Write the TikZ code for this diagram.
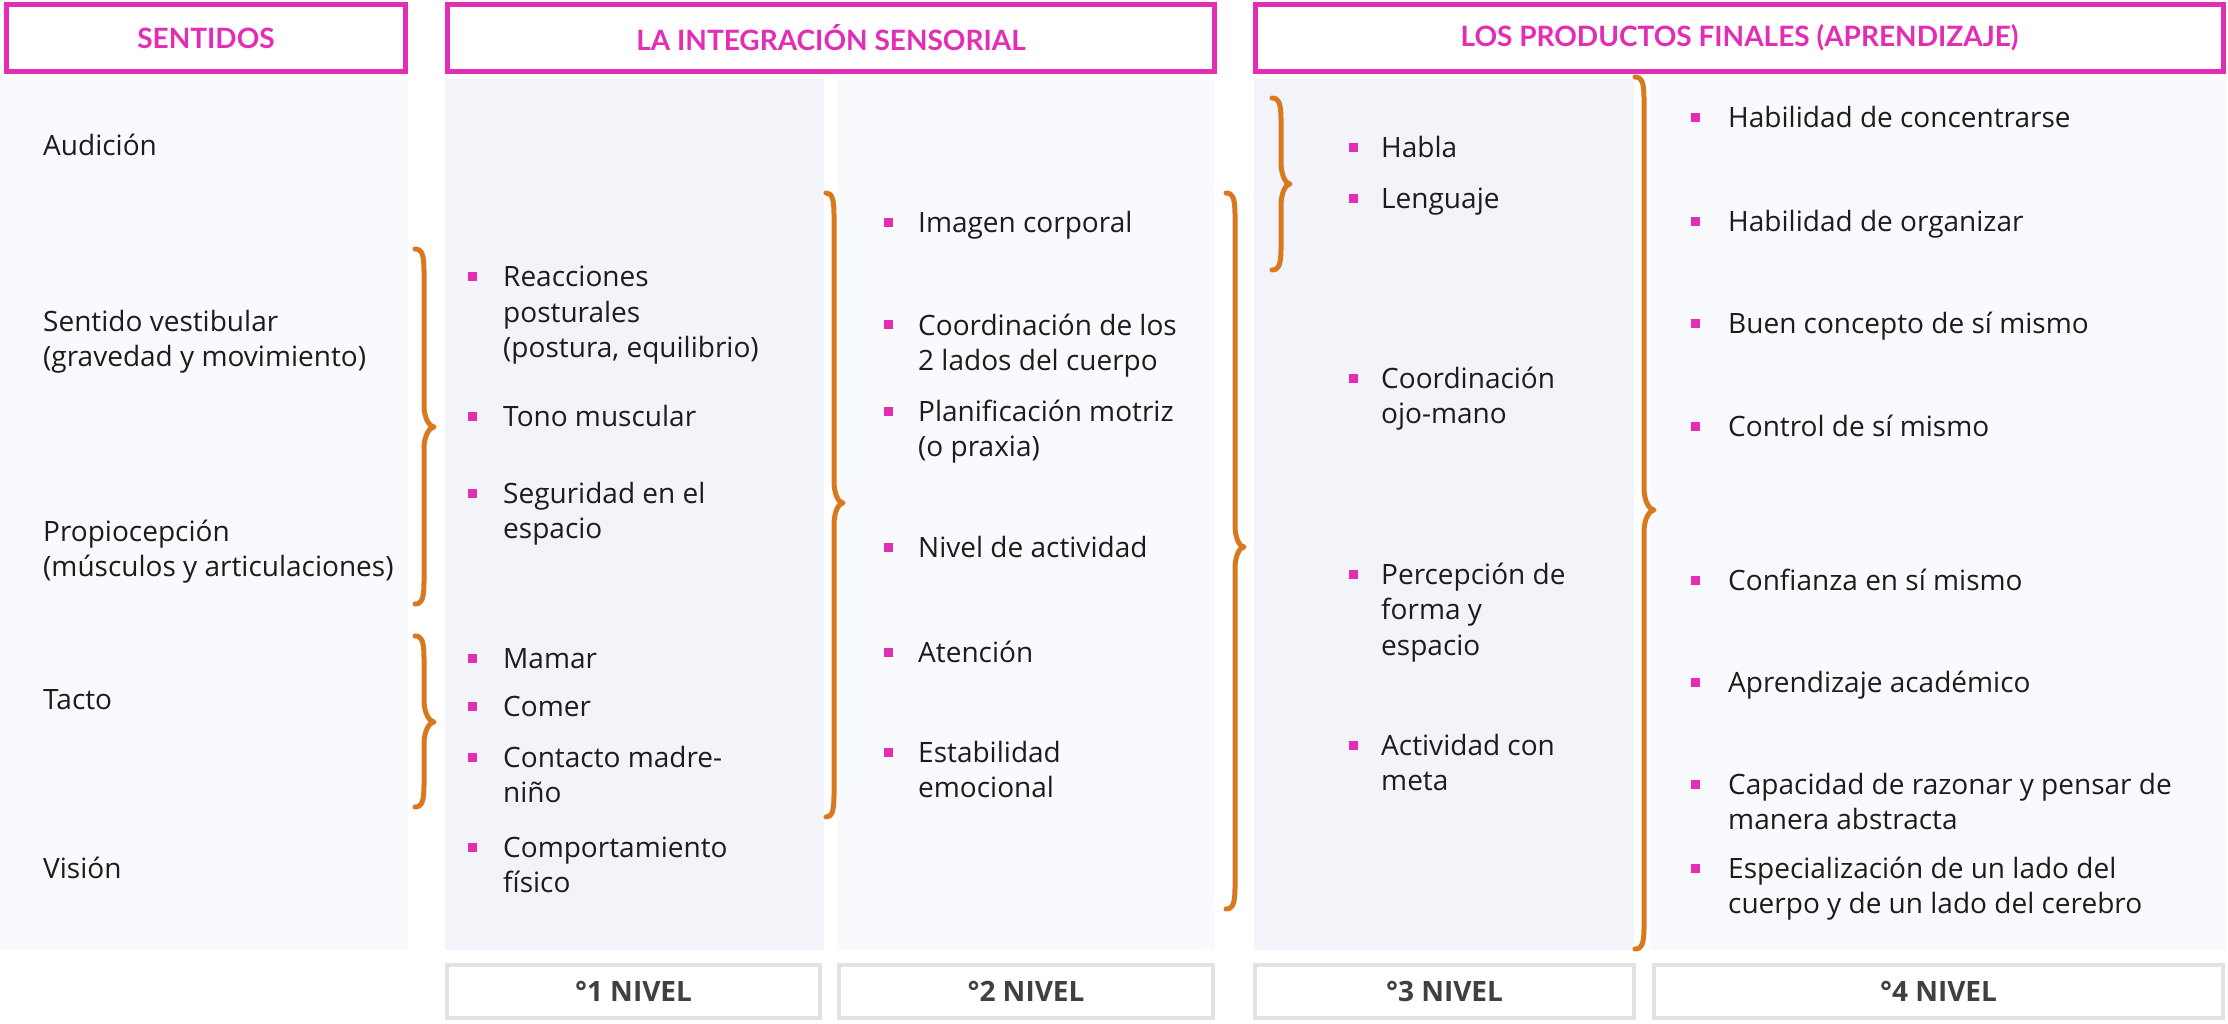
\documentclass[tikz,border=0pt]{standalone}
\usepackage{fontspec}
\setmainfont{Open Sans}
\newfontfamily\hdrfont{Lato}
\definecolor{mag}{RGB}{228,45,181}
\definecolor{org}{RGB}{217,121,30}
\definecolor{bgL}{RGB}{249,250,253}
\definecolor{bgD}{RGB}{243,244,249}
\definecolor{gbox}{RGB}{226,226,226}
\definecolor{txtc}{RGB}{28,28,28}
\definecolor{nivc}{RGB}{64,64,64}
\tikzset{
  txt/.style={anchor=base west, font=\fontsize{28}{35.5}\selectfont, align=left, inner sep=0pt, text=txtc},
  bul/.style={rectangle, fill=mag, minimum size=9pt, inner sep=0pt},
  hdr/.style={draw=mag, line width=5pt, fill=white, text=mag, font=\hdrfont\fontsize{28}{30}\selectfont\bfseries, minimum height=67pt, inner sep=0pt},
  niv/.style={draw=gbox, line width=4pt, fill=white, text=nivc, font=\fontsize{28}{30}\selectfont\bfseries, minimum height=53pt, inner sep=0pt},
  brc/.style={draw=org, line width=5pt, line cap=round, line join=round}
}
\newcommand\brc[6]{% xl xv xt yt ym yb
  \draw[brc] (#1,#4) .. controls (#2-2,#4) and (#2,#4+6) .. (#2,#4+22)
    -- (#2,#5-22) .. controls (#2,#5-8) and (#3-4,#5) .. (#3,#5)
    .. controls (#3-4,#5) and (#2,#5+8) .. (#2,#5+22)
    -- (#2,#6-22) .. controls (#2,#6-6) and (#2-2,#6) .. (#1,#6);}
\begin{document}
\begin{tikzpicture}[x=1pt,y=-1pt]
\useasboundingbox[fill=white] (0,0) rectangle (2228,1024);
% backgrounds
\fill[bgL] (0,79) rectangle (408,950);
\fill[bgD] (445,79) rectangle (824,950);
\fill[bgL] (837,79) rectangle (1215,950);
\fill[bgD] (1254,79) rectangle (1634,950);
\fill[bgL] (1650,79) rectangle (2226,950);
% headers
\node[hdr, minimum width=399pt] (h1) at (206,38) {SENTIDOS};
\node[hdr, minimum width=767pt] (h2) at (831,38) {LA INTEGRACIÓN SENSORIAL};
\node[hdr, minimum width=968pt] (h3) at (1739.5,38) {LOS PRODUCTOS FINALES (APRENDIZAJE)};
% bottom labels
\node[niv, minimum width=373pt] (n1) at (633.5,991.5) {°1 NIVEL};
\node[niv, minimum width=374pt] (n2) at (1026,991.5) {°2 NIVEL};
\node[niv, minimum width=379pt] (n3) at (1444.5,991.5) {°3 NIVEL};
\node[niv, minimum width=569pt] (n4) at (1938.5,991.5) {°4 NIVEL};
% column A
\node[txt] (a1) at (43,156) {Audición};
\node[txt] (a2) at (43,366.5) {Sentido vestibular\\(gravedad y movimiento)};
\node[txt] (a3) at (43,576.5) {Propiocepción\\(músculos y articulaciones)};
\node[txt] (a4) at (43,709) {Tacto};
\node[txt] (a5) at (43,878) {Visión};
% column B
\node[bul] (bb1) at (472,277) {}; \node[txt] (b1) at (503,358) {Reacciones\\posturales\\(postura, equilibrio)};
\node[bul] (bb2) at (472,416) {}; \node[txt] (b2) at (503,426) {Tono muscular};
\node[bul] (bb3) at (472,493) {}; \node[txt] (b3) at (503,538.5) {Seguridad en el\\espacio};
\node[bul] (bb4) at (472,658) {}; \node[txt] (b4) at (503,668) {Mamar};
\node[bul] (bb5) at (472,706) {}; \node[txt] (b5) at (503,716) {Comer};
\node[bul] (bb6) at (472,757) {}; \node[txt] (b6) at (503,802.5) {Contacto madre-\\niño};
\node[bul] (bb7) at (472,847) {}; \node[txt] (b7) at (503,892.5) {Comportamiento\\físico};
% column C
\node[bul] (cb1) at (888,223) {}; \node[txt] (c1) at (918,233) {Imagen corporal};
\node[bul] (cb2) at (888,325) {}; \node[txt] (c2) at (918,370.5) {Coordinación de los\\2 lados del cuerpo};
\node[bul] (cb3) at (888,411) {}; \node[txt] (c3) at (918,456.5) {Planificación motriz\\(o praxia)};
\node[bul] (cb4) at (888,547) {}; \node[txt] (c4) at (918,557) {Nivel de actividad};
\node[bul] (cb5) at (888,652) {}; \node[txt] (c5) at (918,662) {Atención};
\node[bul] (cb6) at (888,752) {}; \node[txt] (c6) at (918,797.5) {Estabilidad\\emocional};
% column D
\node[bul] (db1) at (1353,148) {}; \node[txt] (d1) at (1381,158) {Habla};
\node[bul] (db2) at (1353,199) {}; \node[txt] (d2) at (1381,209) {Lenguaje};
\node[bul] (db3) at (1353,378) {}; \node[txt] (d3) at (1381,423.5) {Coordinación\\ojo-mano};
\node[bul] (db4) at (1353,574) {}; \node[txt] (d4) at (1381,655) {Percepción de\\forma y\\espacio};
\node[bul] (db5) at (1353,745) {}; \node[txt] (d5) at (1381,790.5) {Actividad con\\meta};
% column E
\node[bul] (eb1) at (1695,118) {}; \node[txt] (e1) at (1728,128) {Habilidad de concentrarse};
\node[bul] (eb2) at (1695,222) {}; \node[txt] (e2) at (1728,232) {Habilidad de organizar};
\node[bul] (eb3) at (1695,324) {}; \node[txt] (e3) at (1728,334) {Buen concepto de sí mismo};
\node[bul] (eb4) at (1695,426) {}; \node[txt] (e4) at (1728,436) {Control de sí mismo};
\node[bul] (eb5) at (1695,580) {}; \node[txt] (e5) at (1728,590) {Confianza en sí mismo};
\node[bul] (eb6) at (1695,682) {}; \node[txt] (e6) at (1728,692) {Aprendizaje académico};
\node[bul] (eb7) at (1695,784) {}; \node[txt] (e7) at (1728,829.5) {Capacidad de razonar y pensar de\\manera abstracta};
\node[bul] (eb8) at (1695,868) {}; \node[txt] (e8) at (1728,913.5) {Especialización de un lado del\\cuerpo y de un lado del cerebro};
% braces
\brc{415}{424}{434}{249}{427}{604}
\brc{415}{424}{434}{636}{722}{807}
\brc{826}{834}{843}{193}{503}{817}
\brc{1226}{1235}{1244}{193}{547}{909}
\brc{1272}{1281}{1290}{98}{184}{270}
\brc{1635}{1644}{1654}{77}{510}{949}
\end{tikzpicture}
\end{document}
